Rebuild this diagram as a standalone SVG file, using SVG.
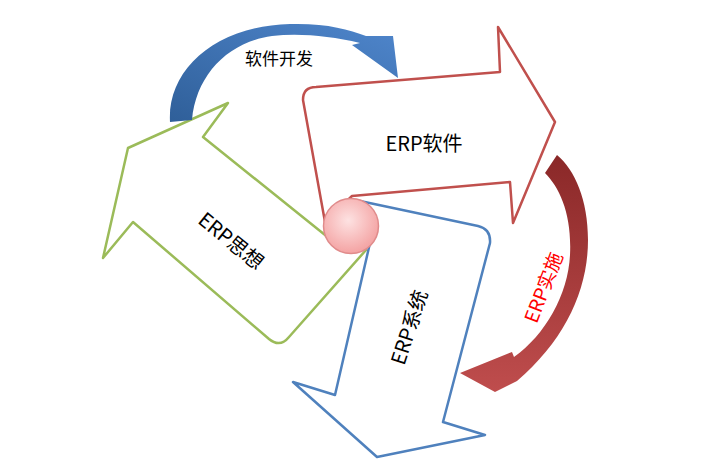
<svg xmlns="http://www.w3.org/2000/svg" width="701" height="468" viewBox="0 0 701 468">
  <defs>
    <style>
      .outline { fill: #ffffff; stroke-width: 2.5; stroke-linejoin: round; }
      .lbl { font-family: "Noto Sans CJK SC", "Liberation Sans", sans-serif; font-size: 20px; fill: #000000; text-anchor: middle; dominant-baseline: central; }
    </style>
    <linearGradient id="gBlue" x1="0" y1="1" x2="1" y2="0">
      <stop offset="0" stop-color="#2f5f99"/>
      <stop offset="1" stop-color="#4f86cc"/>
    </linearGradient>
    <linearGradient id="gRed" x1="0" y1="0" x2="0" y2="1">
      <stop offset="0" stop-color="#8a2828"/>
      <stop offset="1" stop-color="#bf4d4d"/>
    </linearGradient>
    <radialGradient id="gBall" cx="0.45" cy="0.4" r="0.6">
      <stop offset="0" stop-color="#fde2e2"/>
      <stop offset="1" stop-color="#f4a3a3"/>
    </radialGradient>
  </defs>
  <rect width="701" height="468" fill="#ffffff"/>

  <g id="node-erp-thought">
    <path class="outline" stroke="#9bbb59" d="M128,148 L228,103 L203,137 L335,243 L366,250 L289,337 Q280,348 269,339 L133,222 L103,258 Z"/>
    <text class="lbl" transform="translate(232,240) rotate(39)" x="0" y="0">ERP思想</text>
  </g>

  <g id="node-erp-software">
    <path class="outline" stroke="#c0504d" d="M303,100 Q303,87 316,87 L500,72 L498,27 L555,122 L513,223 L510,182 L352,196 L325,222 Z"/>
    <text class="lbl" x="424" y="142">ERP软件</text>
  </g>

  <g id="node-erp-system">
    <path class="outline" stroke="#4f81bd" d="M360,201 L478,226 Q491,229 490,243 L443,422 L485,435 L377,457 L293,382 L335,395 L370,243 Z"/>
    <text class="lbl" transform="translate(408,327) rotate(-72)" x="0" y="0">ERP系统</text>
  </g>

  <g id="node-hub">
    <circle cx="351" cy="226" r="27.5" fill="url(#gBall)" stroke="#e08b8b" stroke-width="1.5"/>
  </g>

  <g id="connectors">
    <g id="edge-software-dev">
      <path fill="url(#gBlue)" d="M170,122 C167,70 215,26 290,24 C325,23 348,29 366,36 L393,36 L398,78 L352,45 L360,43 C330,36 300,33 272,36 C228,42 196,75 192,120 Z"/>
      <text class="lbl" style="font-size:17px" x="279" y="57">软件开发</text>
    </g>
    <g id="edge-erp-implementation">
      <path fill="url(#gRed)" d="M545,173 L557,155 C575,170 588,200 588,240 C588,290 565,340 517,381 L495,392 L460,373 L512,352 L514,357 C545,335 568,295 570,255 C572,215 560,188 545,173 Z"/>
      <text class="lbl" style="font-size:19px; fill:#ff0000" transform="translate(542,287) rotate(-69)" x="0" y="0">ERP实施</text>
    </g>
  </g>
</svg>
